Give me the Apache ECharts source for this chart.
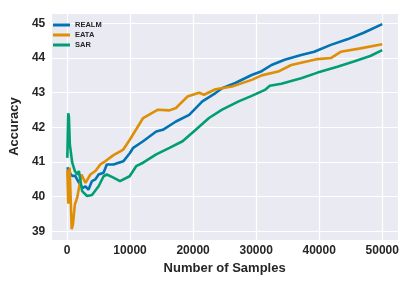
<!DOCTYPE html>
<html>
<head>
<meta charset="utf-8">
<script src="https://cdn.jsdelivr.net/npm/echarts@6/dist/echarts.min.js"></script>
<style>
html,body{margin:0;padding:0;background:#fff;}
#c{width:415px;height:286px;}
</style>
</head>
<body>
<div id="c"></div>
<script>
// Data: [number of samples, accuracy]
const seriesNames = ['REALM', 'EATA', 'SAR'];
const realm = [
  [50, 40.85], [200, 40.9], [420, 40.7], [800, 40.6], [1300, 40.6], [1900, 40.4],
  [2500, 40.25], [2930, 40.3], [3400, 40.2], [3960, 40.45], [4500, 40.5], [5010, 40.64],
  [5800, 40.69], [6310, 40.93], [7370, 40.93], [8930, 41.02], [9980, 41.26], [10500, 41.41],
  [12070, 41.6], [14150, 41.88], [15200, 41.93], [17280, 42.17], [19380, 42.36],
  [21470, 42.75], [23550, 42.99], [24600, 43.13], [26690, 43.28], [29300, 43.51],
  [30870, 43.62], [32440, 43.8], [34520, 43.95], [37140, 44.09], [39220, 44.18],
  [41840, 44.38], [44460, 44.54], [47060, 44.73], [50000, 44.98]
];
const eata = [
  [50, 40.78], [200, 39.8], [420, 40.84], [740, 39.06], [940, 39.2], [1250, 39.78],
  [1610, 39.97], [2300, 40.64], [2930, 40.4], [3710, 40.64], [4500, 40.74], [5280, 40.93],
  [6060, 41.02], [7370, 41.2], [8930, 41.36], [9980, 41.65], [12070, 42.27], [14420, 42.51],
  [16250, 42.49], [17280, 42.56], [19120, 42.89], [20950, 43.0], [21730, 42.94],
  [23550, 43.1], [26170, 43.18], [29300, 43.37], [30870, 43.5], [33490, 43.61],
  [35570, 43.8], [39750, 43.97], [41840, 44.0], [43410, 44.18], [46540, 44.28], [50000, 44.4]
];
const sar = [
  [50, 41.12], [200, 42.41], [300, 42.3], [450, 41.5], [830, 40.98], [1250, 40.74],
  [1610, 40.64], [1880, 40.74], [2400, 40.16], [3180, 40.02], [3960, 40.05], [5010, 40.3],
  [5800, 40.59], [6310, 40.64], [7370, 40.55], [8400, 40.45], [9930, 40.59], [10970, 40.88],
  [12070, 40.98], [14150, 41.22], [16250, 41.41], [18330, 41.6], [20420, 41.93],
  [22520, 42.27], [24600, 42.51], [27220, 42.75], [29300, 42.91], [31390, 43.08],
  [32170, 43.2], [34000, 43.26], [37140, 43.42], [39750, 43.58], [42890, 43.75],
  [45490, 43.9], [48100, 44.06], [50000, 44.23]
];
const colors = ['#0173B2', '#DE8F05', '#029E73'];
const xTitle = 'Number of Samples';
const yTitle = 'Accuracy';

const FONT = '"Liberation Sans", Arial, sans-serif';
const TXT = '#262626';
const chart = echarts.init(document.getElementById('c'), null, {renderer: 'canvas'});
const mk = (name, data, color) => ({
  name, type: 'line', data, showSymbol: false, symbol: 'none',
  lineStyle: {color, width: 2.6}, itemStyle: {color}, animation: false
});
chart.setOption({
  animation: false,
  grid: {left: 48, right: 17, top: 13, bottom: 46, show: true, backgroundColor: '#EAEAF2', borderWidth: 0},
  legend: {
    data: seriesNames, orient: 'vertical', left: 53, top: 21, icon: 'rect', padding: 0,
    itemWidth: 17, itemHeight: 3, itemGap: 2,
    textStyle: {fontFamily: FONT, fontWeight: 'bold', fontSize: 7.5, color: TXT, lineHeight: 8}
  },
  xAxis: {
    type: 'value', min: -2500, max: 52500, splitNumber: 5,
    axisLine: {show: false}, axisTick: {show: false},
    splitLine: {show: true, lineStyle: {color: '#ffffff', width: 1.2}},
    axisLabel: {
      fontFamily: FONT, fontWeight: 'bold', fontSize: 12, color: TXT, margin: 5,
      showMinLabel: false, showMaxLabel: false,
      formatter: v => (Math.abs(v % 10000) < 1e-6 ? String(v) : '')
    },
    name: xTitle, nameLocation: 'middle', nameGap: 16,
    nameTextStyle: {fontFamily: FONT, fontWeight: 'bold', fontSize: 13, color: TXT}
  },
  yAxis: {
    type: 'value', min: 38.75, max: 45.3, splitNumber: 6,
    axisLine: {show: false}, axisTick: {show: false},
    splitLine: {show: true, lineStyle: {color: '#ffffff', width: 1.2}},
    axisLabel: {
      fontFamily: FONT, fontWeight: 'bold', fontSize: 12, color: TXT, margin: 6,
      showMinLabel: false, showMaxLabel: false,
      formatter: v => (Math.abs(v - Math.round(v)) < 1e-6 ? String(Math.round(v)) : '')
    },
    name: yTitle, nameLocation: 'middle', nameGap: 27, nameRotate: 90,
    nameTextStyle: {fontFamily: FONT, fontWeight: 'bold', fontSize: 13, color: TXT}
  },
  series: [mk('REALM', realm, colors[0]), mk('EATA', eata, colors[1]), mk('SAR', sar, colors[2])]
});
</script>
</body>
</html>
